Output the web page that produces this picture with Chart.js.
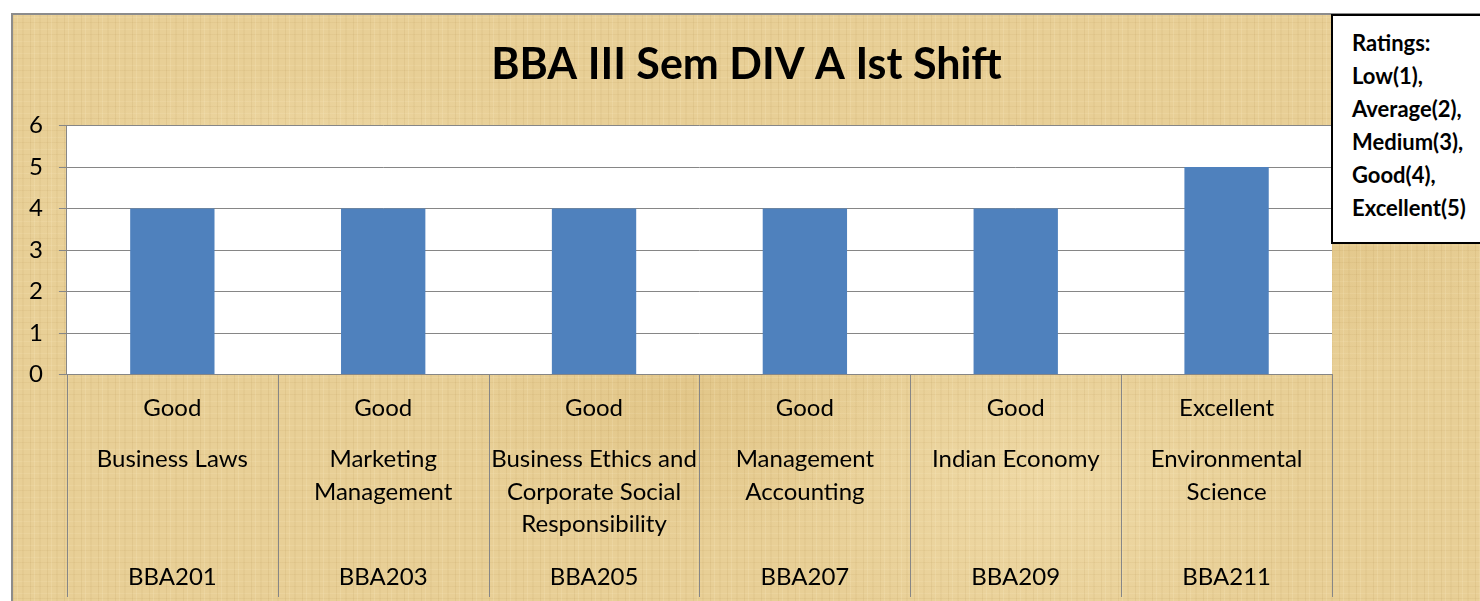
<!DOCTYPE html>
<html><head><meta charset="utf-8">
<script src="https://cdn.jsdelivr.net/npm/chart.js@4"></script>
<style>
html,body{margin:0;padding:0;background:#fff;width:1480px;height:601px;overflow:hidden}
#frame{position:absolute;left:11px;top:13px;width:1480px;height:600px;border:2px solid #8c8c8c;box-sizing:border-box;overflow:hidden;
background-color:#e8cf96;
background-image:
 repeating-linear-gradient(90deg, rgba(150,110,40,0.09) 0 1px, transparent 1px 4px, rgba(255,244,210,0.16) 4px 5px, transparent 5px 9px, rgba(150,110,40,0.05) 9px 11px, transparent 11px 17px),
 repeating-linear-gradient(0deg, rgba(150,110,40,0.07) 0 1px, transparent 1px 5px, rgba(255,244,210,0.12) 5px 6px, transparent 6px 12px),
 radial-gradient(ellipse 300px 120px at 20% 30%, rgba(255,240,200,0.35), transparent),
 radial-gradient(ellipse 260px 160px at 70% 80%, rgba(255,240,200,0.30), transparent),
 radial-gradient(ellipse 220px 140px at 45% 65%, rgba(200,160,80,0.18), transparent),
 radial-gradient(ellipse 240px 120px at 88% 40%, rgba(200,160,80,0.15), transparent);
}
#chart{position:absolute;left:0;top:0}
#ratings{position:absolute;left:1331px;top:14px;width:170px;height:230px;background:#fff;border:2px solid #000;box-sizing:border-box;
font:bold 22px Lato, sans-serif;line-height:33px;padding:10px 0 0 19px;color:#000;white-space:nowrap}
</style>
</head><body>
<div id="frame"><canvas id="chart" width="1467" height="600"></canvas></div>
<div id="ratings">Ratings:<br>Low(1),<br>Average(2),<br>Medium(3),<br>Good(4),<br>Excellent(5)</div>
<script>
const chartTitle = 'BBA III Sem DIV A Ist Shift';
const courseCodes = ['BBA201', 'BBA203', 'BBA205', 'BBA207', 'BBA209', 'BBA211'];
const subjectNames = [
  ['Business Laws'],
  ['Marketing', 'Management'],
  ['Business Ethics and', 'Corporate Social', 'Responsibility'],
  ['Management', 'Accounting'],
  ['Indian Economy'],
  ['Environmental', 'Science']
];
const ratingWords = ['Good', 'Good', 'Good', 'Good', 'Good', 'Excellent'];
const ratingValues = [4, 4, 4, 4, 4, 5];
const yMin = 0, yMax = 6, yStep = 1;

const FONT = 'Lato, sans-serif';
const GRID = '#868686';

const plotBg = {
  id: 'plotBg',
  beforeDraw(chart) {
    const {ctx, chartArea: a} = chart;
    ctx.save();
    ctx.fillStyle = '#ffffff';
    ctx.fillRect(a.left, a.top, a.right - a.left, a.bottom - a.top);
    ctx.restore();
  }
};

// vertical separators between the multi-level category labels, placed by the x scale
const categorySeparators = {
  id: 'categorySeparators',
  afterDraw(chart) {
    const {ctx, chartArea: a} = chart;
    const x = chart.scales.x, last = chart.scales.x3;
    ctx.save();
    ctx.strokeStyle = GRID;
    ctx.lineWidth = 1;
    ctx.beginPath();
    for (let i = 0; i <= courseCodes.length; i++) {
      const px = Math.round(x.getPixelForValue(i - 0.5)) + 0.5;
      ctx.moveTo(px, a.bottom);
      ctx.lineTo(px, last.bottom - 15);
    }
    ctx.stroke();
    ctx.restore();
  }
};

const tickFont = {family: FONT, size: 24, lineHeight: 1.25};

new Chart(document.getElementById('chart'), {
  type: 'bar',
  data: {
    labels: courseCodes,
    datasets: [{
      data: ratingValues,
      backgroundColor: '#4f81bd',
      borderWidth: 0,
      barPercentage: 0.4,
      categoryPercentage: 1.0
    }]
  },
  options: {
    responsive: false,
    animation: false,
    devicePixelRatio: 1,
    layout: {padding: {left: 0, right: 0, top: 0, bottom: 3}},
    plugins: {
      legend: {display: false},
      tooltip: {enabled: false},
      title: {
        display: true,
        text: chartTitle,
        color: '#000',
        font: {family: FONT, size: 43, weight: 'bold', lineHeight: 1.2},
        padding: {top: 24, bottom: 35}
      }
    },
    scales: {
      x: {
        type: 'category', position: 'bottom', weight: 1,
        labels: ratingWords, offset: true,
        grid: {offset: true, drawOnChartArea: false, drawTicks: false},
        border: {display: true, color: GRID},
        ticks: {padding: 19, color: '#000', autoSkip: false, maxRotation: 0, minRotation: 0, font: tickFont}
      },
      x2: {
        type: 'category', position: 'bottom', weight: 2, axis: 'x',
        labels: subjectNames, offset: true,
        grid: {display: false, drawTicks: false}, border: {display: false},
        ticks: {padding: 1, color: '#000', autoSkip: false, maxRotation: 0, minRotation: 0,
                font: {family: FONT, size: 24, lineHeight: 1.354}}
      },
      x3: {
        type: 'category', position: 'bottom', weight: 3, axis: 'x',
        labels: courseCodes, offset: true,
        grid: {display: false, drawTicks: false}, border: {display: false},
        ticks: {padding: 20, color: '#000', autoSkip: false, maxRotation: 0, minRotation: 0, font: tickFont}
      },
      y: {
        min: yMin, max: yMax,
        ticks: {stepSize: yStep, padding: 16, color: '#000', autoSkip: false, font: {family: FONT, size: 24}},
        grid: {color: GRID, tickLength: 8, lineWidth: 1},
        border: {color: GRID}
      },
      // reserves the space on the right where the ratings note sits
      yr: {
        type: 'linear', position: 'right', axis: 'y',
        grid: {display: false}, border: {display: false}, ticks: {display: false},
        afterFit(scale) { scale.width = 148; }
      }
    }
  },
  plugins: [plotBg, categorySeparators]
});
</script>
</body></html>
